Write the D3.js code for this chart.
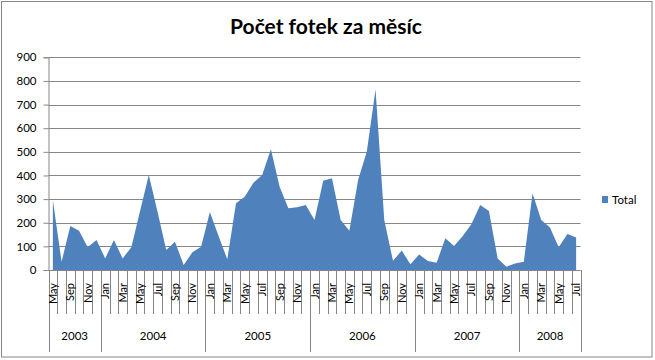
<!DOCTYPE html>
<html>
<head>
<meta charset="utf-8">
<script src="https://cdn.jsdelivr.net/npm/d3@7"></script>
<style>
  body { margin: 0; background: #fff; }
  text { font-family: Lato, "Open Sans", sans-serif; fill: #000; }
</style>
</head>
<body>
<div id="chart"></div>
<script>
const width = 655;
const height = 360;

// months per year, in order
const years = ["2003", "2004", "2005", "2006", "2007", "2008"];
const yearMonths = [
  ["May", "Aug", "Sep", "Oct", "Nov", "Dec"],
  ["Jan", "Feb", "Mar", "Apr", "May", "Jun", "Jul", "Aug", "Sep", "Oct", "Nov", "Dec"],
  ["Jan", "Feb", "Mar", "Apr", "May", "Jun", "Jul", "Aug", "Sep", "Oct", "Nov", "Dec"],
  ["Jan", "Feb", "Mar", "Apr", "May", "Jun", "Jul", "Aug", "Sep", "Oct", "Nov", "Dec"],
  ["Jan", "Feb", "Mar", "Apr", "May", "Jun", "Jul", "Aug", "Sep", "Oct", "Nov", "Dec"],
  ["Jan", "Feb", "Mar", "Apr", "May", "Jun", "Jul"],
];
// photos per month
const totals = [
  295, 35, 186, 166, 96, 127,
  49, 127, 49, 96, 250, 402, 247, 85, 120, 21, 75, 98,
  245, 144, 45, 282, 310, 369, 402, 511, 352, 261, 265, 275,
  212, 378, 388, 212, 166, 381, 501, 764, 212, 39, 82, 24,
  66, 38, 31, 134, 102, 144, 195, 275, 250, 49, 14, 28,
  35, 324, 212, 180, 96, 152, 138,
];
const yTicks = [0, 100, 200, 300, 400, 500, 600, 700, 800, 900];

const cats = [];
years.forEach((y, yi) => yearMonths[yi].forEach((m) => cats.push({ year: y, month: m })));
const data = cats.map((c, i) => ({ ...c, i: i, value: totals[i] }));

const plot = { left: 48.5, right: 580.5, top: 57.3, bottom: 270 };

const svg = d3
  .select("#chart")
  .append("svg")
  .attr("width", width)
  .attr("height", height);

// chart border
svg
  .append("rect")
  .attr("x", 1.5)
  .attr("y", 1.5)
  .attr("width", 650.5)
  .attr("height", 355.5)
  .attr("fill", "#fff")
  .attr("stroke", "#868686")
  .attr("stroke-width", 1);

const x = d3
  .scaleBand()
  .domain(data.map((d) => d.i))
  .range([plot.left, plot.right])
  .paddingInner(0)
  .paddingOuter(0);

const y = d3.scaleLinear().domain([0, 900]).range([plot.bottom, plot.top]);

//-----gridlines + y labels
svg
  .append("g")
  .selectAll("line")
  .data(yTicks.slice(1))
  .join("line")
  .attr("x1", plot.left)
  .attr("x2", plot.right)
  .attr("y1", (d) => Math.round(y(d)) + 0.5)
  .attr("y2", (d) => Math.round(y(d)) + 0.5)
  .attr("stroke", "#868686");

const yAxis = svg
  .append("g")
  .attr("transform", `translate(${plot.left},0)`)
  .call(d3.axisLeft(y).tickValues(yTicks).tickSize(5).tickPadding(7));
yAxis.select(".domain").attr("stroke", "#868686");
yAxis.selectAll(".tick line").attr("stroke", "#868686");
yAxis
  .selectAll(".tick text")
  .style("font-family", "Lato, 'Open Sans', sans-serif")
  .style("font-size", "11.5px")
  .attr("fill", "#000");

//-----area
const area = d3
  .area()
  .x((d) => x(d.i) + x.bandwidth() / 2)
  .y0(y(0))
  .y1((d) => y(d.value));

svg
  .append("path")
  .datum(data)
  .attr("d", area)
  .attr("fill", "#4f81bd");

//-----category axis
svg
  .append("line")
  .attr("x1", plot.left)
  .attr("x2", plot.right)
  .attr("y1", plot.bottom + 0.5)
  .attr("y2", plot.bottom + 0.5)
  .attr("stroke", "#868686");

// month separators
const monthBounds = data.map((d) => d.i).concat([data.length]);
const isYearStart = (i) => i === 0 || i === data.length || data[i].year !== data[i - 1].year;
svg
  .append("g")
  .selectAll("line")
  .data(monthBounds)
  .join("line")
  .attr("x1", (i) => Math.round(i < data.length ? x(i) : plot.right) + 0.5)
  .attr("x2", (i) => Math.round(i < data.length ? x(i) : plot.right) + 0.5)
  .attr("y1", plot.bottom)
  .attr("y2", (i) => (isYearStart(i) ? 352 : 314))
  .attr("stroke", "#868686");

// month labels, every other one
svg
  .append("g")
  .selectAll("text")
  .data(data.filter((d) => d.i % 2 === 0))
  .join("text")
  .attr("transform", (d) => `translate(${x(d.i) + x.bandwidth() / 2 + 4},283) rotate(-90)`)
  .attr("text-anchor", "end")
  .style("font-size", "11px")
  .text((d) => d.month);

// year labels
const yearSpans = years.map((yr) => {
  const ds = data.filter((d) => d.year === yr);
  return { year: yr, x0: x(ds[0].i), x1: x(ds[ds.length - 1].i) + x.bandwidth() };
});
svg
  .append("g")
  .selectAll("text")
  .data(yearSpans)
  .join("text")
  .attr("x", (d) => (d.x0 + d.x1) / 2)
  .attr("y", 340)
  .attr("text-anchor", "middle")
  .style("font-size", "11.5px")
  .text((d) => d.year);

//-----title
svg
  .append("text")
  .attr("x", 326)
  .attr("y", 34)
  .attr("text-anchor", "middle")
  .style("font-size", "21px")
  .style("font-weight", "bold")
  .text("Počet fotek za měsíc");

//-----legend
svg
  .append("rect")
  .attr("x", 602)
  .attr("y", 196)
  .attr("width", 6)
  .attr("height", 7)
  .attr("fill", "#4f81bd");
svg
  .append("text")
  .attr("x", 612)
  .attr("y", 204)
  .style("font-size", "11.5px")
  .text("Total");
</script>
</body>
</html>
